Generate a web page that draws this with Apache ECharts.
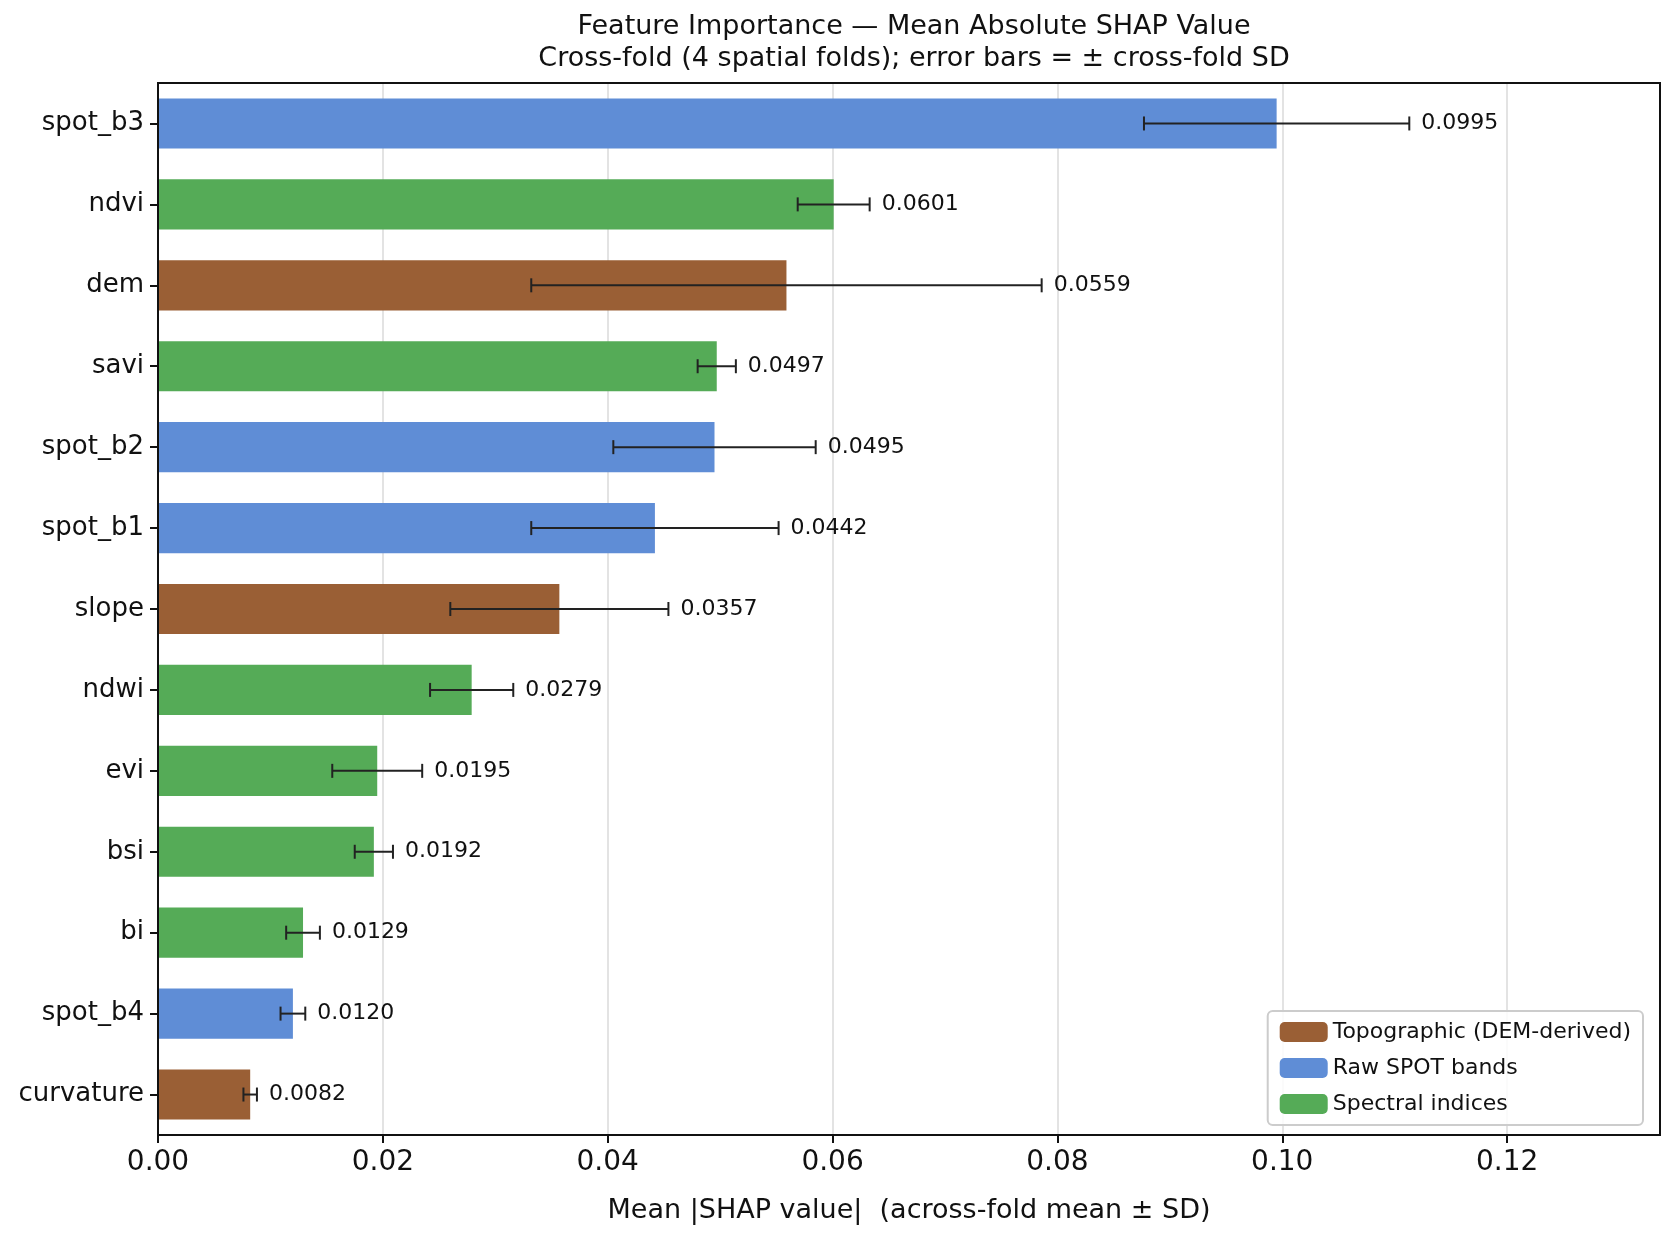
<!DOCTYPE html>
<html lang="en">
<head>
    <meta charset="UTF-8">
    <title>Feature Importance</title>
    <script src="https://cdn.jsdelivr.net/npm/echarts@6/dist/echarts.min.js"></script>
</head>
<body style="margin:0">
    <div id="main" style="width: 1663px;height:1233px;"></div>
<script>
    var features = ['spot_b3', 'ndvi', 'dem', 'savi', 'spot_b2', 'spot_b1', 'slope', 'ndwi', 'evi', 'bsi', 'bi', 'spot_b4', 'curvature'];
    var groups = ['spot', 'spec', 'topo', 'spec', 'spot', 'spot', 'topo', 'spec', 'spec', 'spec', 'spec', 'spot', 'topo'];
    var means = [0.0995, 0.0601, 0.0559, 0.0497, 0.0495, 0.0442, 0.0357, 0.0279, 0.0195, 0.0192, 0.0129, 0.0120, 0.0082];
    var sds = [0.0118, 0.0032, 0.0227, 0.0017, 0.0090, 0.0110, 0.0097, 0.0037, 0.0040, 0.0017, 0.0015, 0.0011, 0.0006];
    var xTicks = [0, 0.02, 0.04, 0.06, 0.08, 0.10, 0.12];

    var colors = { topo: '#9a5f35', spot: '#5f8dd6', spec: '#55ab57' };
    var names = { topo: 'Topographic (DEM-derived)', spot: 'Raw SPOT bands', spec: 'Spectral indices' };
    var font = 'DejaVu Sans';

    function groupSeries(g) {
        return {
            name: names[g],
            type: 'bar',
            stack: 'all',
            barWidth: '62%',
            itemStyle: { color: colors[g] },
            data: means.map(function (v, i) { return groups[i] === g ? v : '-'; })
        };
    }

    var myChart = echarts.init(document.getElementById('main'));
    myChart.setOption({
        animation: false,
        textStyle: { fontFamily: font },
        title: {
            text: 'Feature Importance — Mean Absolute SHAP Value\nCross-fold (4 spatial folds); error bars = ± cross-fold SD',
            left: 909, textAlign: 'center', top: 6,
            textStyle: { fontSize: 27, fontWeight: 'normal', color: '#111', lineHeight: 32, fontFamily: font }
        },
        legend: {
            orient: 'vertical', right: 20, bottom: 108,
            data: [names.topo, names.spot, names.spec],
            itemWidth: 48, itemHeight: 20, itemGap: 14,
            borderColor: '#ccc', borderWidth: 2, borderRadius: 5, padding: [10, 12],
            backgroundColor: 'rgba(255,255,255,0.85)',
            textStyle: { fontSize: 22, color: '#111', fontFamily: font }
        },
        grid: { left: 158, right: 3, top: 83, bottom: 98 },
        xAxis: {
            type: 'value', min: 0, max: 0.1336, interval: 0.02,
            name: 'Mean |SHAP value|  (across-fold mean ± SD)',
            nameLocation: 'middle', nameGap: 62,
            nameTextStyle: { fontSize: 27, color: '#111' },
            axisLine: { show: true, lineStyle: { color: '#111', width: 2 } },
            axisTick: { show: true, length: 8, lineStyle: { color: '#111', width: 2 } },
            axisLabel: {
                fontSize: 28, color: '#111', margin: 14, showMaxLabel: false,
                formatter: function (v) { return v.toFixed(2); }
            },
            splitLine: { show: true, lineStyle: { color: '#e3e3e3', width: 2 } }
        },
        yAxis: {
            type: 'category', inverse: true, data: features,
            axisLine: { show: true, lineStyle: { color: '#111', width: 2 } },
            axisTick: { show: true, alignWithLabel: true, length: 8, lineStyle: { color: '#111', width: 2 } },
            axisLabel: { fontSize: 26, color: '#111', margin: 14 }
        },
        graphic: [{
            type: 'rect', z: 100, silent: true,
            shape: { x: 158, y: 83, width: 1502, height: 1052 },
            style: { fill: 'none', stroke: '#111', lineWidth: 2 }
        }],
        series: [groupSeries('topo'), groupSeries('spot'), groupSeries('spec'), {
            type: 'custom', z: 10,
            data: means.map(function (v, i) { return [i, v - sds[i], v + sds[i], v]; }),
            encode: { x: [1, 2], y: 0 },
            renderItem: function (params, api) {
                var i = api.value(0);
                var lo = api.coord([api.value(1), i]);
                var hi = api.coord([api.value(2), i]);
                var cap = 7;
                var st = { stroke: '#222', lineWidth: 2 };
                return {
                    type: 'group', children: [
                        { type: 'line', shape: { x1: lo[0], y1: lo[1], x2: hi[0], y2: hi[1] }, style: st },
                        { type: 'line', shape: { x1: lo[0], y1: lo[1] - cap, x2: lo[0], y2: lo[1] + cap }, style: st },
                        { type: 'line', shape: { x1: hi[0], y1: hi[1] - cap, x2: hi[0], y2: hi[1] + cap }, style: st },
                        {
                            type: 'text', x: hi[0] + 12, y: hi[1],
                            style: {
                                text: api.value(3).toFixed(4), fill: '#111', font: '22px ' + font,
                                textVerticalAlign: 'middle', verticalAlign: 'middle'
                            }
                        }
                    ]
                };
            }
        }]
    });
</script>
</body>
</html>
